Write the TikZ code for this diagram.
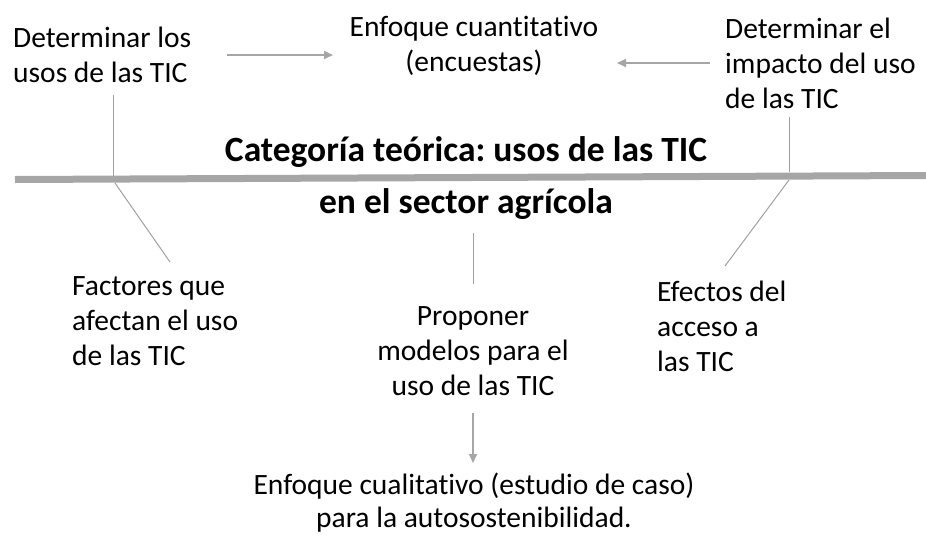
\documentclass[tikz,border=0pt]{standalone}
\usepackage{fontspec}
\setmainfont{Carlito}[Ligatures=NoCommon]
\frenchspacing
\usetikzlibrary{arrows.meta}
\definecolor{barragris}{RGB}{166,166,166}
\definecolor{lineagris}{RGB}{160,160,160}
\tikzset{
	texto/.style={inner sep=0pt, font=\fontsize{29.5}{35}\selectfont},
	titulo/.style={inner sep=0pt, align=center, font=\fontsize{35.5}{52}\selectfont\bfseries},
	linea/.style={line width=1pt, color=lineagris},
	flecha/.style={line width=2pt, color=barragris, -{Triangle[length=9pt,width=8pt]}}
}

\begin{document}
\begin{tikzpicture}[x=1pt, y=-1pt]
			%%%%% START %%%%%
			\useasboundingbox (0, 0) rectangle (926, 536);
			
			% textos de arriba
			\node[texto, anchor=north west, align=left] (usos) at (13, 27) {Determinar los\\usos de las TIC};
			\node[texto, anchor=north, align=center] (cuanti) at (474, 16.5) {Enfoque cuantitativo\\(encuestas)};
			\node[texto, anchor=north west, align=left] (impacto) at (725, 17.5) {Determinar el\\impacto del uso\\de las TIC};
			
			% categoria
			\node[titulo, anchor=north] (categoria) at (466, 136) {Categoría teórica: usos de las TIC\\en el sector agrícola};
			
			% textos de abajo
			\node[texto, anchor=north west, align=left] (factores) at (72, 276) {Factores que\\afectan el uso\\de las TIC};
			\node[texto, anchor=north, align=center] (proponer) at (473, 306) {Proponer\\modelos para el\\uso de las TIC};
			\node[texto, anchor=north west, align=left] (efectos) at (657, 280.5) {Efectos del\\acceso a\\las TIC};
			\node[texto, anchor=north, align=center, font=\fontsize{29.5}{33}\selectfont] (cuali) at (474, 473) {Enfoque cualitativo (estudio de caso)\\para la autosostenibilidad.};
			
			% puntos sueltos
			\coordinate (barraI) at (15, 179.5);
			\coordinate (barraD) at (926, 175.5);
			\coordinate (usosAbajo) at (113, 95);
			\coordinate (usosBarra) at (113, 176);
			\coordinate (factBarra) at (115, 183);
			\coordinate (factArriba) at (170, 262);
			\coordinate (impAbajo) at (789, 117);
			\coordinate (impBarra) at (789, 172);
			\coordinate (efecBarra) at (789, 180);
			\coordinate (efecArriba) at (725, 266);
			\coordinate (propArriba) at (473, 233);
			\coordinate (propCat) at (473, 284);
			\coordinate (propAbajo) at (473, 413);
			\coordinate (cualiArriba) at (473, 463);
			\coordinate (usosDer) at (227, 55);
			\coordinate (cuantiIzq) at (333, 55);
			\coordinate (impIzq) at (710, 63);
			\coordinate (cuantiDer) at (617, 63);
			
			% espina
			\draw[line width=7pt, color=barragris] (barraI) -- (barraD);
			
			\draw[linea] (usosAbajo) -- (usosBarra);
			\draw[linea] (factBarra) -- (factArriba);
			\draw[linea] (impAbajo) -- (impBarra);
			\draw[linea] (efecBarra) -- (efecArriba);
			\draw[linea] (propArriba) -- (propCat);
			
			% flechas
			\draw[flecha] (usosDer) -- (cuantiIzq);
			\draw[flecha] (impIzq) -- (cuantiDer);
			\draw[flecha, line width=1.5pt] (propAbajo) -- (cualiArriba);
			
			%%%%% END %%%%%
\end{tikzpicture}
\end{document}
